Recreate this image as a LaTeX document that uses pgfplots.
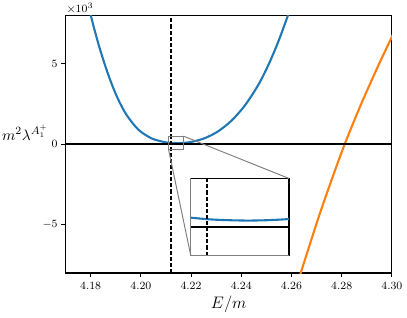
\documentclass[border=0pt]{standalone}
\usepackage{pgfplots}
\pgfplotsset{compat=1.18}
\definecolor{mblue}{RGB}{31,119,180}
\definecolor{morange}{RGB}{255,127,14}
\pgfplotstableread{
x y
4.1794 8419
4.1801 7970
4.1817 7014
4.1837 5907
4.1860 4782
4.1883 3777
4.1910 2774
4.1943 1821
4.1990 906
4.2043 360
4.2096 124
4.2110 94
4.2125 73
4.2144 64
4.2160 70
4.2175 88
4.2202 146
4.2255 378
4.2308 804
4.2361 1463
4.2414 2397
4.2467 3663
4.2507 4887
4.2547 6349
4.2585 7960
4.2594 8367
}\bluedata
\pgfplotstableread{
x y
4.2630 -8330
4.2637 -7985
4.2706 -4638
4.2759 -2253
4.2812 0
4.2878 2508
4.2945 4853
4.3000 6670
4.3005 6830
}\orangedata
\begin{document}
\begin{tikzpicture}
\begin{axis}[
  name=main,
  scale only axis, width=235pt, height=185.5pt,
  xmin=4.17, xmax=4.30, ymin=-8000, ymax=8000,
  xtick={4.18,4.20,4.22,4.24,4.26,4.28,4.30},
  xticklabels={$4.18$,$4.20$,$4.22$,$4.24$,$4.26$,$4.28$,$4.30$},
  ytick={-5000,0,5000},
  yticklabels={$-5$,$0$,$5$},
  scaled y ticks=false,
  tick align=outside, xtick pos=bottom, ytick pos=left,
  major tick length=3pt,
  every tick/.style={black, line width=0.8pt},
  axis line style={line width=0.8pt},
  tick label style={font=\fontsize{8.5}{10}\selectfont},
  yticklabel style={inner sep=1.5pt, xshift=-1pt},
  xlabel={$E/m$}, ylabel={$m^2\lambda^{A_1^+}$},
  every axis x label/.style={at={(axis description cs:0.5,0)}, anchor=north, inner sep=0pt, yshift=-16.5pt, font=\fontsize{12}{14}\selectfont},
  every axis y label/.style={at={(axis description cs:0,0.5)}, anchor=base east, inner sep=0pt, xshift=-12.3pt, yshift=3pt, font=\fontsize{11}{13}\selectfont},
]
\addplot[mblue, line width=1.5pt, smooth] table[x=x,y=y] {\bluedata};
\addplot[morange, line width=1.5pt, smooth] table[x=x,y=y] {\orangedata};
\addplot[black, line width=1.5pt] coordinates {(4.17,0) (4.30,0)};
\addplot[black, line width=1pt, dash pattern=on 3pt off 1.4pt] coordinates {(4.212,-8000) (4.212,8000)};
\draw[gray, line width=0.7pt] (axis cs:4.211,-300) rectangle (axis cs:4.217,500);
\coordinate (boxSW) at (axis cs:4.211,-300);
\coordinate (boxNE) at (axis cs:4.217,500);
\coordinate (insetSW) at (axis cs:4.2199,-6925);
\end{axis}
\node[anchor=base west, inner sep=0pt, font=\fontsize{8}{10}\selectfont] at ([xshift=0.5pt,yshift=2pt]main.north west) {$\times10^{3}$};
\begin{axis}[
  name=ins,
  at={(insetSW)}, anchor=south west,
  scale only axis, width=70.68pt, height=55.63pt,
  xmin=4.211, xmax=4.217, ymin=-300, ymax=500,
  ticks=none,
  axis line style={line width=0.8pt},
  axis background/.style={fill=white},
]
\addplot[mblue, line width=1.5pt, smooth] table[x=x,y=y] {\bluedata};
\addplot[black, line width=1.5pt] coordinates {(4.20,0) (4.23,0)};
\addplot[black, line width=1pt, dash pattern=on 3pt off 1.4pt] coordinates {(4.212,-300) (4.212,500)};
\end{axis}
\draw[gray, line width=0.8pt] (ins.north west) -- (ins.south west) -- (ins.south east);
\draw[gray, line width=0.7pt] (boxSW) -- (ins.south west);
\draw[gray, line width=0.7pt] (boxNE) -- (ins.north east);
\path (-47.2pt,-31.7pt) rectangle (245.8pt,196.6pt);
\end{tikzpicture}
\end{document}
